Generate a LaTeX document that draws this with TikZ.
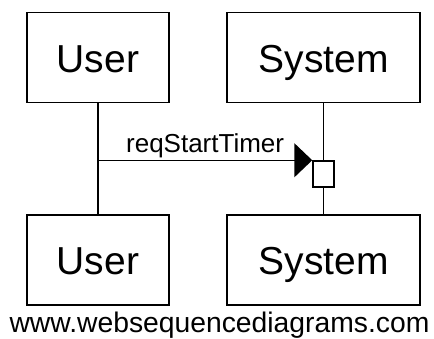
\documentclass[tikz,border=0pt]{standalone}
\usepackage{fontspec}
\setmainfont{Liberation Sans}
\usetikzlibrary{positioning, arrows.meta}

\begin{document}
\begin{tikzpicture}[x=1pt, y=-1pt, line width=1.5pt,
		actor/.style={draw, minimum height=90pt, inner sep=0pt, text height=29pt, text depth=0pt, font=\fontsize{39}{39}\selectfont},
		activation/.style={draw, fill=white, minimum width=21pt, minimum height=26pt, inner sep=0pt},
		message/.style={-{Triangle[length=18pt, width=34pt]}}]
		\useasboundingbox (0,0) rectangle (434,338);
		% participants, top and bottom
		\node[actor, minimum width=142pt] (user top) at (98,57.5) {User};
		\node[actor, minimum width=193pt] (system top) at (323.5,57.5) {System};
		\node[actor, minimum width=142pt] (user bottom) at (98,260) {User};
		\node[actor, minimum width=193pt] (system bottom) at (323.5,260) {System};
		% lifelines
		\draw (user top) -- (user bottom);
		\draw (system top) -- (system bottom);
		\node[activation] (timer) at (323.5,174) {};
		% message
		\coordinate (user msg) at (user top.south |- timer.north);
		\draw[message] (user msg) -- (timer.north west) node[pos=0.5, above=2pt, inner sep=0pt, font=\fontsize{26}{26}\selectfont] (msg label) {reqStartTimer};
		\node[anchor=base, inner sep=0pt, font=\fontsize{28.3}{28.3}\selectfont] (footer) at (219.5,332) {www.websequencediagrams.com};
	\end{tikzpicture}
\end{document}
